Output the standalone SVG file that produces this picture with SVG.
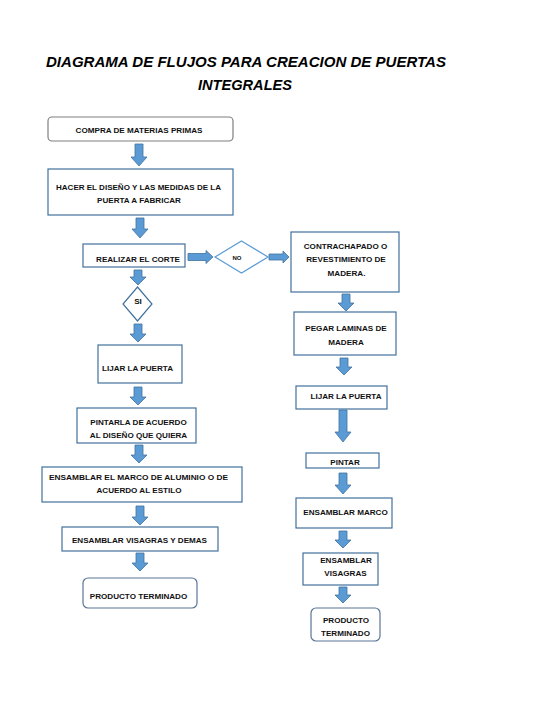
<svg xmlns="http://www.w3.org/2000/svg" width="554" height="725" viewBox="0 0 554 725">
<style>
.t{font-family:"Liberation Sans",Arial,sans-serif;font-weight:bold;font-size:8.1px;fill:#111;text-anchor:middle}
.title{font-family:"Liberation Sans",Arial,sans-serif;font-weight:bold;font-style:italic;font-size:14.9px;fill:#000;text-anchor:middle}
.box{fill:#fff;stroke:#41719C;stroke-width:1.2}
.rbox{fill:#fff;stroke:#7F7F7F;stroke-width:1.2}
.pbox{fill:#fff;stroke:#5A7597;stroke-width:1.2}
.arr{fill:#5B9BD5;stroke:#41719C;stroke-width:0.8}
</style>
<rect width="554" height="725" fill="#fff"/>
<g id="title">
<text class="title" x="246" y="66.5" textLength="400" lengthAdjust="spacingAndGlyphs">DIAGRAMA DE FLUJOS PARA CREACION DE PUERTAS</text>
<text class="title" x="245" y="90" textLength="94" lengthAdjust="spacingAndGlyphs">INTEGRALES</text>
</g>
<g id="connectors">
<path class="arr" d="M135 144H143V157H147L139 166L131 157H135Z"/>
<path class="arr" d="M136 218H144V229H148L140 238L132 229H136Z"/>
<path class="arr" d="M134 270H142V277H146L138 285L130 277H134Z"/>
<path class="arr" d="M134 324H142V334H146L138 342L130 334H134Z"/>
<path class="arr" d="M134 387H142V397H146L138 405L130 397H134Z"/>
<path class="arr" d="M135 445H143V455H147L139 463L131 455H135Z"/>
<path class="arr" d="M136 506H144V517H148L140 525L132 517H136Z"/>
<path class="arr" d="M136 553H144V563H148L140 571L132 563H136Z"/>
<path class="arr" d="M188 253.5H206V250.5L213 257L206 263.5V260.5H188Z"/>
<path class="arr" d="M269 254H283V251L289 257L283 263V260H269Z"/>
<path class="arr" d="M342 294H350V303H354L346 311L338 303H342Z"/>
<path class="arr" d="M340 358H348V367H352L344 375L336 367H340Z"/>
<path class="arr" d="M339 410H347V432H351L343 442L335 432H339Z"/>
<path class="arr" d="M339 473H347V485H351L343 494L335 485H339Z"/>
<path class="arr" d="M339 531H347V540H351L343 548L335 540H339Z"/>
<path class="arr" d="M339 587H347V595H351L343 603L335 595H339Z"/>
</g>
<g id="n_compra"><rect class="rbox" x="48" y="117" width="185" height="24" rx="4"/><text class="t" x="139" y="133">COMPRA DE MATERIAS PRIMAS</text></g>
<g id="n_disenio"><rect class="box" x="48" y="169" width="185" height="46"/><text class="t" x="138.5" y="190" textLength="165" lengthAdjust="spacingAndGlyphs">HACER EL DISEÑO Y LAS MEDIDAS DE LA</text><text class="t" x="139" y="203">PUERTA A FABRICAR</text></g>
<g id="n_corte"><rect class="box" x="83" y="244" width="102" height="23"/><text class="t" x="138" y="262">REALIZAR EL CORTE</text></g>
<g id="n_no"><path d="M241.5 241L268 257L241.5 273L215 257Z" fill="#fff" stroke="#5B9BD5" stroke-width="1.2"/><text class="t" x="237" y="259.5" style="font-size:6px">NO</text></g>
<g id="n_si"><path d="M137.5 287L152 304L137.5 321L123 304Z" fill="#fff" stroke="#41719C" stroke-width="1.2"/><text class="t" x="138" y="304">SI</text></g>
<g id="n_lijar1"><rect class="box" x="98" y="345" width="84" height="38"/><text class="t" x="137.5" y="371">LIJAR LA PUERTA</text></g>
<g id="n_pintarla"><rect class="box" x="77" y="408" width="119" height="35"/><text class="t" x="138.5" y="425">PINTARLA DE ACUERDO</text><text class="t" x="138.5" y="438">AL DISEÑO QUE QUIERA</text></g>
<g id="n_marco1"><rect class="box" x="42" y="467" width="200" height="35"/><text class="t" x="138.5" y="480" textLength="179" lengthAdjust="spacingAndGlyphs">ENSAMBLAR EL MARCO DE ALUMINIO O DE</text><text class="t" x="139" y="493">ACUERDO AL ESTILO</text></g>
<g id="n_visagras1"><rect class="box" x="62" y="527" width="156" height="24"/><text class="t" x="139.5" y="543">ENSAMBLAR VISAGRAS Y DEMAS</text></g>
<g id="n_producto1"><rect class="pbox" x="83" y="578" width="114" height="30" rx="5"/><text class="t" x="138.5" y="599">PRODUCTO TERMINADO</text></g>
<g id="n_contrachapado"><rect class="box" x="291" y="232" width="108" height="60"/><text class="t" x="345.5" y="249">CONTRACHAPADO O</text><text class="t" x="346" y="262">REVESTIMIENTO DE</text><text class="t" x="346.5" y="276">MADERA.</text></g>
<g id="n_pegar"><rect class="box" x="294" y="312" width="102" height="43"/><text class="t" x="346" y="331">PEGAR LAMINAS DE</text><text class="t" x="346" y="345">MADERA</text></g>
<g id="n_lijar2"><rect class="box" x="296" y="386" width="91" height="23"/><text class="t" x="346" y="399">LIJAR LA PUERTA</text></g>
<g id="n_pintar"><rect class="box" x="306" y="453" width="73" height="15"/><text class="t" x="345" y="464.5">PINTAR</text></g>
<g id="n_marco2"><rect class="box" x="296" y="498" width="96" height="30"/><text class="t" x="345.5" y="515">ENSAMBLAR MARCO</text></g>
<g id="n_visagras2"><rect class="box" x="303" y="553" width="75" height="32"/><text class="t" x="346" y="563">ENSAMBLAR</text><text class="t" x="345.5" y="576">VISAGRAS</text></g>
<g id="n_producto2"><rect class="pbox" x="311" y="608" width="69" height="33" rx="5"/><text class="t" x="346" y="623">PRODUCTO</text><text class="t" x="345.5" y="636">TERMINADO</text></g>
</svg>
